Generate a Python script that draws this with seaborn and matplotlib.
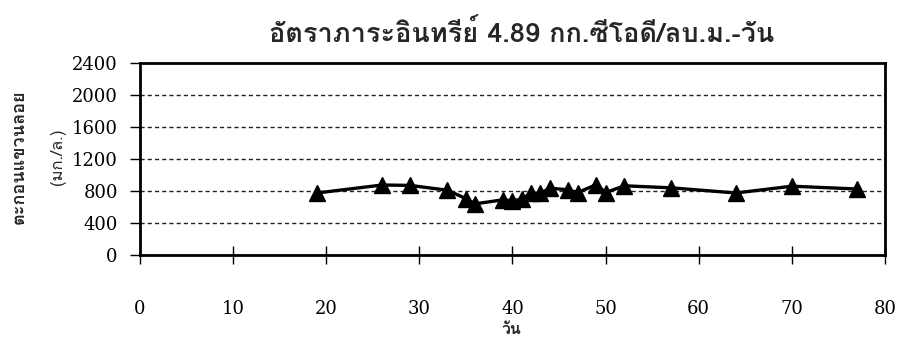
import matplotlib
matplotlib.use("Agg")
import matplotlib.pyplot as plt
from matplotlib import font_manager
from matplotlib.ft2font import FT2Font
import seaborn as sns
import pandas as pd

# Suspended solids over the run (day, mg/L)
days = [19, 26, 29, 33, 35, 36, 39, 40, 41, 42, 43, 44, 46, 47, 49, 50, 52, 57, 64, 70, 77]
ss_mg_l = [775, 875, 870, 810, 705, 640, 690, 675, 700, 775, 770, 835, 815, 780,
           880, 780, 865, 840, 775, 860, 825]

x_ticks = [0, 10, 20, 30, 40, 50, 60, 70, 80]
y_ticks = [0, 400, 800, 1200, 1600, 2000, 2400]

title = "อัตราภาระอินทรีย์ 4.89 กก.ซีโอดี/ลบ.ม.-วัน"
x_label = "วัน"
y_label = "ตะกอนแขวนลอย"
y_unit = "(มก./ล.)"


def family_with(codepoint, fallback):
    """First installed family that has a glyph for codepoint."""
    seen = set()
    for fe in font_manager.fontManager.ttflist:
        if fe.fname in seen:
            continue
        seen.add(fe.fname)
        try:
            if codepoint in FT2Font(fe.fname).get_charmap():
                return fe.name
        except Exception:
            continue
    return fallback


thai = family_with(0x0E2D, "DejaVu Sans")
num_family = ["DejaVu Serif", thai]
thai_family = [thai, "DejaVu Sans"]

sns.set_theme(style="ticks")
plt.rcParams["font.family"] = num_family

df = pd.DataFrame({"day": days, "ss": ss_mg_l})

fig = plt.figure(figsize=(8.98, 3.45), dpi=100)
ax = fig.add_axes([0.1559, 0.2609, 0.8296, 0.5565])

# dashed reference lines at each interior y tick
for yv in y_ticks[1:-1]:
    ax.axhline(yv, color="#222222", lw=1.0, ls=(0, (3, 2.2)), zorder=1)

sns.lineplot(data=df, x="day", y="ss", ax=ax, color="black", lw=2.4,
             marker="^", markersize=12, markeredgecolor="black",
             markeredgewidth=1, zorder=3)

ax.set_xlim(0, 80)
ax.set_ylim(0, 2400)
ax.set_xticks(x_ticks)
ax.set_yticks(y_ticks)
ax.set_xticklabels([str(v) for v in x_ticks])
ax.set_yticklabels([str(v) for v in y_ticks])

for side in ["left", "right", "top", "bottom"]:
    ax.spines[side].set_visible(True)
    ax.spines[side].set_color("black")
    ax.spines[side].set_linewidth(2.0)

ax.tick_params(axis="y", direction="out", length=7, width=1, pad=9,
               labelsize=13, colors="black")
ax.tick_params(axis="x", direction="inout", length=13, width=1, pad=26,
               labelsize=13, colors="black")

ax.set_xlabel("")
ax.set_ylabel("")

fig.text(0.569, 0.045, x_label, ha="center", va="center", fontsize=11.5,
         fontweight="bold", family=thai_family)
fig.text(0.021, 0.545, y_label, ha="center", va="center", rotation=90,
         fontsize=13, fontweight="bold", family=thai_family)
fig.text(0.0646, 0.545, y_unit, ha="center", va="center", rotation=90,
         fontsize=12, family=thai_family)
fig.text(0.581, 0.905, title, ha="center", va="center", fontsize=19.5,
         fontweight="heavy", family=thai_family)

fig.savefig("out.png", dpi=100, facecolor="white")
